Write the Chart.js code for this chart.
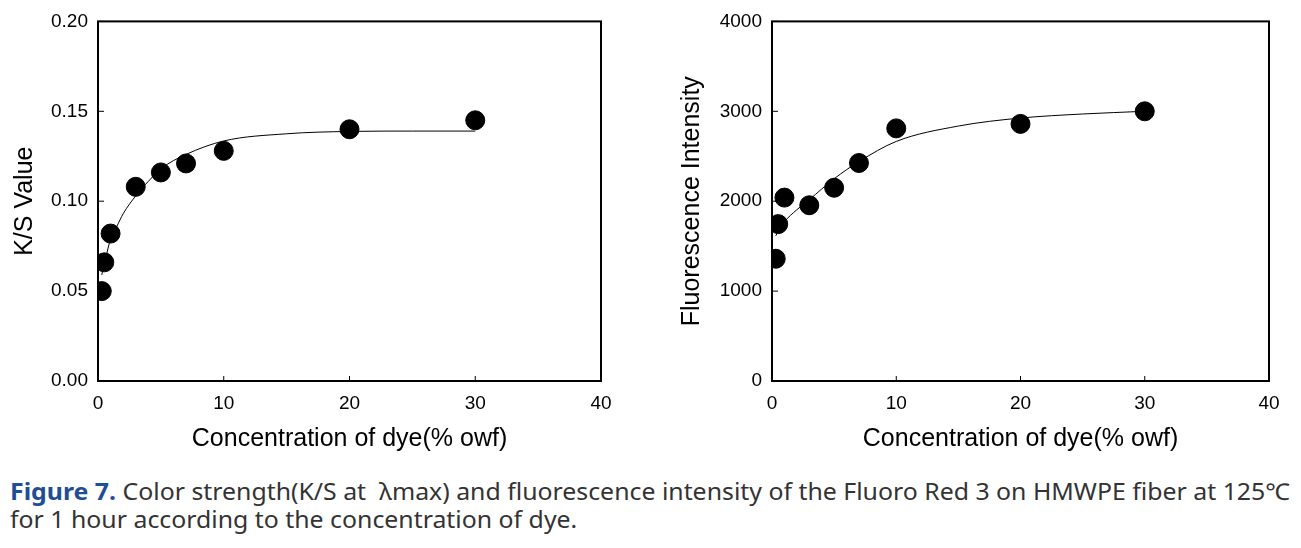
<!DOCTYPE html>
<html>
<head>
<meta charset="utf-8">
<script src="https://cdn.jsdelivr.net/npm/chart.js@4/dist/chart.umd.min.js"></script>
<style>
  body { margin: 0; background: #fff; width: 1301px; height: 548px; position: relative; overflow: hidden; }
  #left { position: absolute; left: 0; top: 0; }
  #right { position: absolute; left: 660px; top: 0; }
  #caption {
    position: absolute; left: 10px; top: 477px;
    font-family: "Noto Sans", "Noto Sans CJK KR", sans-serif; font-size: 23px;
    line-height: 28px; color: #333; white-space: nowrap; transform-origin: 0 0;
  }
  #caption b { color: #1f4e96; }
</style>
</head>
<body>
<canvas id="left" width="640" height="460"></canvas>
<canvas id="right" width="641" height="460"></canvas>
<div id="caption"><span id="line1"><b>Figure 7.</b> Color strength(K/S at &nbsp;λmax) and fluorescence intensity of the Fluoro Red 3 on HMWPE fiber at 125℃</span><br>for 1 hour according to the concentration of dye.</div>
<script>
// measured points (concentration, % owf)
const conc = [0.3, 0.5, 1, 3, 5, 7, 10, 20, 30];
const ksValue = [0.050, 0.066, 0.082, 0.108, 0.116, 0.121, 0.128, 0.140, 0.145];
const fluoValue = [1360, 1745, 2040, 1955, 2150, 2425, 2810, 2860, 3000];

// fitted curves
const ksFitX = [0.3, 0.6, 1, 1.5, 2, 3, 4, 5, 7, 10, 15, 20, 25, 30];
const ksFitY = [0.059, 0.068, 0.079, 0.086, 0.093, 0.103, 0.111, 0.118, 0.126, 0.1335, 0.1375, 0.1388, 0.139, 0.139];
const fluoFitX = [0.3, 1, 2, 3, 5, 7, 10, 15, 20, 25, 30];
const fluoFitY = [1615, 1770, 1905, 2017, 2250, 2440, 2665, 2836, 2925, 2970, 3000];

const xTicks = [0, 10, 20, 30, 40];
const ksTicks = [0, 0.05, 0.10, 0.15, 0.20];
const fluoTicks = [0, 1000, 2000, 3000, 4000];

const FONT = "'Liberation Sans', Arial, sans-serif";

// stretch the caption's first line to the full figure width
const cap = document.getElementById('caption');
const w1 = document.getElementById('line1').getBoundingClientRect().width;
cap.style.transform = 'scaleX(' + (1280 / w1) + ')';

// frame box + small inward ticks
const framePlugin = {
    id: 'frame',
    afterDraw(chart) {
        const { ctx, chartArea: a, scales } = chart;
        ctx.save();
        ctx.strokeStyle = '#000';
        ctx.lineWidth = 1;
        scales.x.ticks.forEach(t => {
            const px = scales.x.getPixelForValue(t.value);
            ctx.beginPath(); ctx.moveTo(px, a.bottom); ctx.lineTo(px, a.bottom - 5); ctx.stroke();
        });
        scales.y.ticks.forEach(t => {
            const py = scales.y.getPixelForValue(t.value);
            ctx.beginPath(); ctx.moveTo(a.left, py); ctx.lineTo(a.left + 6, py); ctx.stroke();
        });
        ctx.lineWidth = 2;
        ctx.strokeRect(a.left, a.top, a.right - a.left, a.bottom - a.top);
        ctx.restore();
    }
};

function makeChart(id, pts, fitX, fitY, yTicks, yTitle, fmt, yWidth, padRight, titlePad) {
    const ctx = document.getElementById(id).getContext('2d');
    return new Chart(ctx, {
        type: 'scatter',
        data: {
            datasets: [{
                type: 'line',
                data: fitX.map((x, i) => ({ x: x, y: fitY[i] })),
                borderColor: '#000',
                borderWidth: 1,
                pointRadius: 0,
                fill: false,
                cubicInterpolationMode: 'monotone',
                order: 2
            }, {
                data: conc.map((x, i) => ({ x: x, y: pts[i] })),
                backgroundColor: '#000',
                borderColor: '#000',
                pointRadius: 9.5,
                order: 1
            }]
        },
        options: {
            responsive: false,
            animation: false,
            layout: { padding: { left: 0, right: padRight, top: 21, bottom: 0 } },
            plugins: { legend: { display: false }, tooltip: { enabled: false } },
            scales: {
                x: {
                    type: 'linear',
                    min: 0, max: 40,
                    afterBuildTicks: s => { s.ticks = xTicks.map(v => ({ value: v })); },
                    afterFit: s => { s.height = 79; },
                    grid: { display: false, drawTicks: false },
                    border: { display: false },
                    ticks: { color: '#000', font: { family: FONT, size: 19 }, padding: 11 },
                    title: { display: true, text: 'Concentration of dye(% owf)', color: '#000',
                             font: { family: FONT, size: 25 }, padding: { top: 0, bottom: 6 } }
                },
                y: {
                    type: 'linear',
                    min: yTicks[0], max: yTicks[yTicks.length - 1],
                    afterBuildTicks: s => { s.ticks = yTicks.map(v => ({ value: v })); },
                    afterFit: s => { s.width = yWidth; },
                    grid: { display: false, drawTicks: false },
                    border: { display: false },
                    ticks: { color: '#000', font: { family: FONT, size: 19 }, padding: 10, callback: fmt },
                    title: { display: true, text: yTitle, color: '#000',
                             font: { family: FONT, size: 25 }, padding: { top: titlePad, bottom: 0 } }
                }
            }
        },
        plugins: [framePlugin]
    });
}

makeChart('left', ksValue, ksFitX, ksFitY, ksTicks, 'K/S Value', v => v.toFixed(2), 98, 39, 10);
makeChart('right', fluoValue, fluoFitX, fluoFitY, fluoTicks, 'Fluorescence Intensity', v => String(v), 112, 32, 17);
</script>
</body>
</html>
